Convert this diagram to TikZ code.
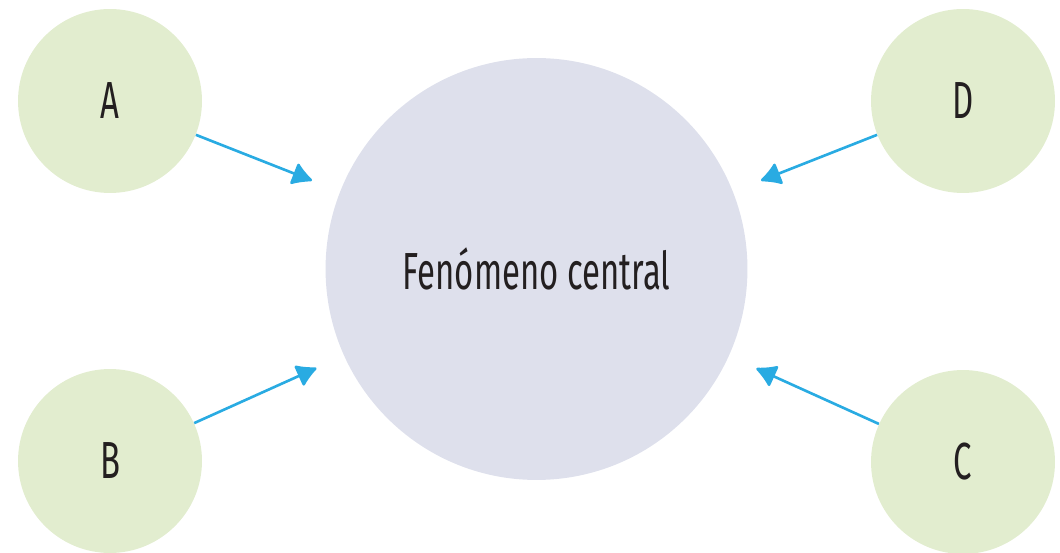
\documentclass[tikz,border=0pt]{standalone}
\usepackage{fontspec}
\setmainfont{Fira Sans}[FakeStretch=0.63]
\usetikzlibrary{arrows.meta}
\definecolor{leafgreen}{HTML}{E2EDCF}
\definecolor{lavender}{HTML}{DEE0EC}
\definecolor{skyblue}{HTML}{29ABE2}
\definecolor{inkdark}{HTML}{231F20}

\begin{document}
\begin{tikzpicture}[x=0.02cm,y=-0.02cm,
  outer/.style={circle,fill=leafgreen,minimum size=3.68cm,inner sep=0pt,text=inkdark,font=\fontsize{29.7}{32}\selectfont},
  core/.style={circle,fill=lavender,minimum size=8.44cm,inner sep=0pt,text=inkdark,font=\fontsize{29.7}{32}\selectfont},
  feed/.style={draw=skyblue,line width=1.5pt,-{Latex[length=4.4mm,width=5mm,round]},shorten >=0.6cm}]
\def\leftx{110}
\def\rightx{963}
\def\topy{101}

\useasboundingbox (0,0) rectangle (1060,553);
\node[core] (centre) at (536.5,269) {Fenómeno central};
\node[outer] (a) at (\leftx,\topy) {A};
\node[outer] (b) at (\leftx,461) {B};
\node[outer] (c) at (\rightx,462) {C};
\node[outer] (d) at (\rightx,\topy) {D};

\draw[feed] (a) -- (centre);
\draw[feed] (b) -- (centre);
\draw[feed] (c) -- (centre);
\draw[feed] (d) -- (centre);
\end{tikzpicture}
\end{document}
